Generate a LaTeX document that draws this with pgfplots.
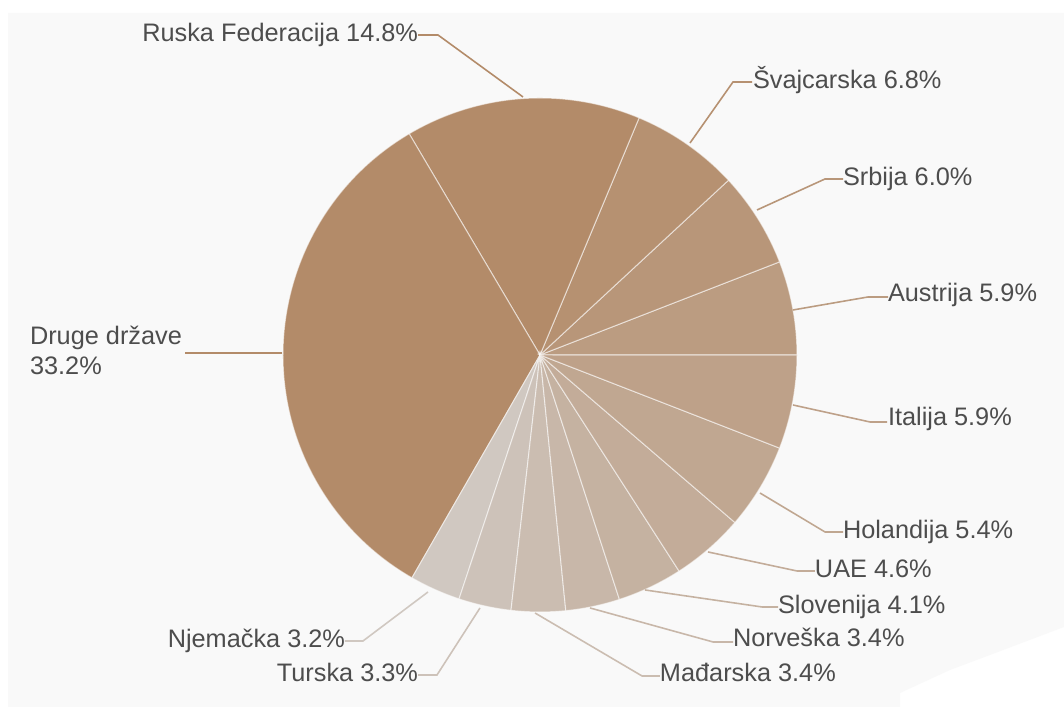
\documentclass[border=0pt]{standalone}
\usepackage{fontspec}
\setmainfont{Liberation Sans}
\usepackage{pgfplots}
\pgfplotsset{compat=1.18}
\definecolor{c0}{RGB}{179,139,105}
\definecolor{c1}{RGB}{182,145,113}
\definecolor{c2}{RGB}{184,150,121}
\definecolor{c3}{RGB}{187,156,129}
\definecolor{c4}{RGB}{190,161,137}
\definecolor{c5}{RGB}{192,167,145}
\definecolor{c6}{RGB}{195,172,153}
\definecolor{c7}{RGB}{197,178,161}
\definecolor{c8}{RGB}{200,183,169}
\definecolor{c9}{RGB}{203,189,177}
\definecolor{c10}{RGB}{205,194,185}
\definecolor{c11}{RGB}{208,200,193}
\definecolor{bgc}{RGB}{249,249,249}
\definecolor{txt}{RGB}{77,77,77}
\newcommand\lbl{\fontsize{7.2pt}{8.6pt}\selectfont}
\tikzset{lab/.style={text=txt, font=\lbl, inner sep=0pt, outer sep=0pt}}
\begin{document}
\lbl
\begin{tikzpicture}
\begin{axis}[x=2.57cm, y=2.57cm, xmin=-2.1012, xmax=2.0389, ymin=-1.3696, ymax=1.3813,
  hide axis, clip=false,
  slice/.style={draw=white, draw opacity=0.55, line width=0.3pt}]
% background
\fill[white] (axis cs:-2.1012,-1.3696) rectangle (axis cs:2.0389,1.3813);
\fill[bgc] (axis cs:-2.0700,1.3307) -- (axis cs:2.0389,1.3307) -- (axis cs:2.0389,-1.0584)
  -- (axis cs:1.7510,-1.1673) -- (axis cs:1.5953,-1.2257) -- (axis cs:1.4008,-1.3152)
  -- (axis cs:1.4008,-1.3696) -- (axis cs:-2.0700,-1.3696) -- cycle;
% slices (share in %, 3.6 deg per %, clockwise from 0 deg)
% Austrija 5.9
\addplot[slice, fill=c3] coordinates {(0,0) (1,0)} arc[start angle=0, end angle=21.24, radius=2.57cm] -- cycle;
% Srbija 6.0
\addplot[slice, fill=c2] coordinates {(0,0) (0.93207,0.36228)} arc[start angle=21.24, end angle=42.84, radius=2.57cm] -- cycle;
% Svajcarska 6.8
\addplot[slice, fill=c1] coordinates {(0,0) (0.73326,0.67995)} arc[start angle=42.84, end angle=67.32, radius=2.57cm] -- cycle;
% Ruska Federacija 14.8
\addplot[slice, fill=c0] coordinates {(0,0) (0.38558,0.92267)} arc[start angle=67.32, end angle=120.6, radius=2.57cm] -- cycle;
% Druge drzave 33.2
\addplot[slice, fill=c0] coordinates {(0,0) (-0.50904,0.86074)} arc[start angle=120.6, end angle=240.12, radius=2.57cm] -- cycle;
% Njemacka 3.2
\addplot[slice, fill=c11] coordinates {(0,0) (-0.49819,-0.86707)} arc[start angle=240.12, end angle=251.64, radius=2.57cm] -- cycle;
% Turska 3.3
\addplot[slice, fill=c10] coordinates {(0,0) (-0.31499,-0.94910)} arc[start angle=251.64, end angle=263.52, radius=2.57cm] -- cycle;
% Madjarska 3.4
\addplot[slice, fill=c9] coordinates {(0,0) (-0.11285,-0.99361)} arc[start angle=263.52, end angle=275.76, radius=2.57cm] -- cycle;
% Norveska 3.4
\addplot[slice, fill=c8] coordinates {(0,0) (0.10036,-0.99495)} arc[start angle=275.76, end angle=288.0, radius=2.57cm] -- cycle;
% Slovenija 4.1
\addplot[slice, fill=c7] coordinates {(0,0) (0.30902,-0.95106)} arc[start angle=288.0, end angle=302.76, radius=2.57cm] -- cycle;
% UAE 4.6
\addplot[slice, fill=c6] coordinates {(0,0) (0.54112,-0.84094)} arc[start angle=302.76, end angle=319.32, radius=2.57cm] -- cycle;
% Holandija 5.4
\addplot[slice, fill=c5] coordinates {(0,0) (0.75836,-0.65183)} arc[start angle=319.32, end angle=338.76, radius=2.57cm] -- cycle;
% Italija 5.9
\addplot[slice, fill=c4] coordinates {(0,0) (0.93207,-0.36228)} arc[start angle=338.76, end angle=360, radius=2.57cm] -- cycle;

% leader lines
\addplot[c0, line width=0.45pt] coordinates {(-0.0661,1.0039) (-0.3969,1.2451) (-0.4747,1.2451)};
\addplot[c1, line width=0.45pt] coordinates {(0.5837,0.8249) (0.7510,1.0623) (0.8249,1.0623)};
\addplot[c2, line width=0.45pt] coordinates {(0.8444,0.5642) (1.1089,0.6848) (1.1790,0.6848)};
\addplot[c3, line width=0.45pt] coordinates {(0.9844,0.1751) (1.2763,0.2257) (1.3541,0.2257)};
\addplot[c4, line width=0.45pt] coordinates {(0.9844,-0.1946) (1.2840,-0.2607) (1.3502,-0.2607)};
\addplot[c5, line width=0.45pt] coordinates {(0.8560,-0.5370) (1.1089,-0.6887) (1.1790,-0.6887)};
\addplot[c6, line width=0.45pt] coordinates {(0.6537,-0.7665) (1.0000,-0.8405) (1.0700,-0.8405)};
\addplot[c7, line width=0.45pt] coordinates {(0.4086,-0.9144) (0.8638,-0.9805) (0.9261,-0.9805)};
\addplot[c8, line width=0.45pt] coordinates {(0.1946,-0.9844) (0.6732,-1.1167) (0.7510,-1.1167)};
\addplot[c9, line width=0.45pt] coordinates {(-0.0195,-1.0039) (0.3969,-1.2490) (0.4669,-1.2490)};
\addplot[c10, line width=0.45pt] coordinates {(-0.2335,-0.9844) (-0.4008,-1.2451) (-0.4747,-1.2451)};
\addplot[c11, line width=0.45pt] coordinates {(-0.4358,-0.9222) (-0.6887,-1.1128) (-0.7588,-1.1128)};
\addplot[c0, line width=0.45pt] coordinates {(-1.0039,0.0078) (-1.3813,0.0078)};

% labels
\node[lab, anchor=base east] at (axis cs:-0.4747,1.2191) {Ruska Federacija 14.8\%};
\node[lab, anchor=base west] at (axis cs:0.8288,1.0377) {Švajcarska 6.8\%};
\node[lab, anchor=base west] at (axis cs:1.1790,0.6576) {Srbija 6.0\%};
\node[lab, anchor=base west] at (axis cs:1.3541,0.2074) {Austrija 5.9\%};
\node[lab, anchor=base west] at (axis cs:1.3541,-0.2763) {Italija 5.9\%};
\node[lab, anchor=base west] at (axis cs:1.1790,-0.7132) {Holandija 5.4\%};
\node[lab, anchor=base west] at (axis cs:1.0700,-0.8665) {UAE 4.6\%};
\node[lab, anchor=base west] at (axis cs:0.9261,-1.0051) {Slovenija 4.1\%};
\node[lab, anchor=base west] at (axis cs:0.7510,-1.1350) {Norveška 3.4\%};
\node[lab, anchor=base west] at (axis cs:0.4669,-1.2712) {Mađarska 3.4\%};
\node[lab, anchor=base east] at (axis cs:-0.4747,-1.2712) {Turska 3.3\%};
\node[lab, anchor=base east] at (axis cs:-0.7588,-1.1374) {Njemačka 3.2\%};
\node[lab, anchor=base west] at (axis cs:-1.9844,0.0389) {Druge države};
\node[lab, anchor=base west] at (axis cs:-1.9844,-0.0778) {33.2\%};
\end{axis}
\end{tikzpicture}
\end{document}
